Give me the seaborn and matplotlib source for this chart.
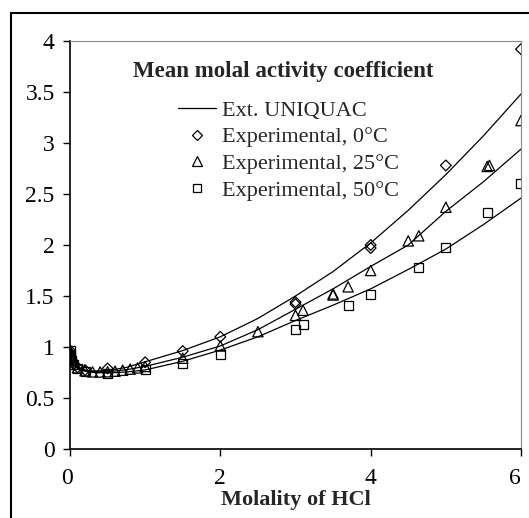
import seaborn as sns
import matplotlib.pyplot as plt
import matplotlib.transforms as mtrans
import pandas as pd
from matplotlib.lines import Line2D
from matplotlib.patches import Rectangle

# model curves (Ext. UNIQUAC)
m_model = [0, 0.001, 0.005, 0.01, 0.02, 0.05, 0.1, 0.2, 0.3, 0.5, 0.75, 1, 1.5, 2, 2.5, 3, 3.5, 4, 4.5, 5, 5.5, 6]
g_model_0 = [1.0, 0.966, 0.930, 0.906, 0.878, 0.835, 0.800, 0.775, 0.765, 0.768, 0.800, 0.855, 0.965, 1.10, 1.28, 1.50, 1.74, 2.02, 2.34, 2.69, 3.07, 3.48]
g_model_25 = [1.0, 0.965, 0.929, 0.905, 0.875, 0.830, 0.796, 0.768, 0.757, 0.757, 0.777, 0.810, 0.900, 1.01, 1.17, 1.37, 1.57, 1.79, 2.00, 2.33, 2.62, 2.94]
g_model_50 = [1.0, 0.964, 0.927, 0.902, 0.871, 0.825, 0.790, 0.762, 0.750, 0.745, 0.755, 0.775, 0.860, 0.97, 1.10, 1.26, 1.41, 1.57, 1.76, 1.96, 2.20, 2.46]

# experimental points
m_exp_0 = [0.001, 0.005, 0.01, 0.02, 0.05, 0.1, 0.2, 0.5, 1.0, 1.5, 2.0, 3.0, 3.0, 4.0, 4.0, 5.0, 6.0]
g_exp_0 = [0.966, 0.930, 0.906, 0.878, 0.834, 0.800, 0.774, 0.79, 0.85, 0.96, 1.10, 1.44, 1.42, 2.00, 1.97, 2.78, 3.92]
m_exp_25 = [0.001, 0.002, 0.005, 0.01, 0.02, 0.05, 0.1, 0.2, 0.3, 0.4, 0.5, 0.6, 0.7, 0.8, 0.9, 1.0,
            1.5, 2.0, 2.5, 3.0, 3.1, 3.5, 3.5, 3.7, 4.0, 4.5, 4.64, 5.0, 5.55, 5.58, 6.0]
g_exp_25 = [0.965, 0.952, 0.929, 0.905, 0.875, 0.830, 0.796, 0.767, 0.756, 0.755, 0.757, 0.763, 0.772, 0.783, 0.795, 0.809,
            0.89, 1.01, 1.15, 1.31, 1.36, 1.52, 1.51, 1.59, 1.75, 2.04, 2.09, 2.37, 2.77, 2.78, 3.22]
m_exp_50 = [0.001, 0.005, 0.01, 0.02, 0.05, 0.1, 0.2, 0.5, 1.0, 1.5, 2.0, 3.0, 3.1, 3.7, 4.0, 4.64, 5.0, 5.55, 6.0]
g_exp_50 = [0.964, 0.926, 0.901, 0.870, 0.824, 0.789, 0.760, 0.74, 0.78, 0.84, 0.93, 1.17, 1.22, 1.41, 1.51, 1.78, 1.98, 2.32, 2.60]

x_ticks = [0, 2, 4, 6]
y_ticks = [0, 0.5, 1, 1.5, 2, 2.5, 3, 3.5, 4]
y_tick_labels = ["0", "0.5", "1", "1.5", "2", "2.5", "3", "3.5", "4"]

sns.set_theme(style="ticks")
plt.rcParams['font.family'] = ['Liberation Serif', 'DejaVu Serif']

fig = plt.figure(figsize=(5.29, 5.18), dpi=100)
W, H = 529, 518
ax = fig.add_axes([70 / W, 1 - 449 / H, (521 - 70) / W, (449 - 41) / H])

model = pd.concat([
    pd.DataFrame({"m": m_model, "g": g_model_0, "T": "0"}),
    pd.DataFrame({"m": m_model, "g": g_model_25, "T": "25"}),
    pd.DataFrame({"m": m_model, "g": g_model_50, "T": "50"}),
])
sns.lineplot(data=model, x="m", y="g", units="T", estimator=None, color="black",
             lw=0.9, sort=False, ax=ax, legend=False)

sns.scatterplot(x=m_exp_0, y=g_exp_0, marker="D", s=30, facecolor="none", edgecolor="black", linewidth=0.9, ax=ax, zorder=3)
sns.scatterplot(x=m_exp_25, y=g_exp_25, marker="^", s=55, facecolor="none", edgecolor="black", linewidth=0.9, ax=ax, zorder=3)
sns.scatterplot(x=m_exp_50, y=g_exp_50, marker="s", s=42, facecolor="none", edgecolor="black", linewidth=0.9, ax=ax, zorder=3)

ax.set_xlim(0, 6)
ax.set_ylim(0, 4)
ax.set_xticks(x_ticks)
ax.set_yticks(y_ticks)
ax.set_yticklabels(y_tick_labels)
ax.tick_params(labelsize=17, length=5, width=1, direction="out", colors="black", pad=6)
ax.tick_params(axis="x", pad=8.5)
ax.set_xlabel("Molality of HCl", fontsize=16, fontweight="bold", labelpad=1)
ax.set_ylabel("")
for side in ["left", "bottom"]:
    ax.spines[side].set_color("black")
    ax.spines[side].set_linewidth(1.2)
for side in ["top", "right"]:
    ax.spines[side].set_visible(True)
    ax.spines[side].set_color("#888888")
    ax.spines[side].set_linewidth(0.8)

# end labels sit slightly inside, as in the original
xl = ax.get_xticklabels()
xl[0].set_transform(xl[0].get_transform() + mtrans.ScaledTranslation(-3 / 100, 0, fig.dpi_scale_trans))
xl[-1].set_transform(xl[-1].get_transform() + mtrans.ScaledTranslation(-6 / 100, 0, fig.dpi_scale_trans))

fig.text(283 / W, 1 - 72 / H, "Mean molal activity coefficient", fontsize=16.5,
         fontweight="bold", ha="center", va="center")

handles = [
    Line2D([], [], color="black", lw=0.9),
    Line2D([], [], marker="D", ls="", ms=5, mfc="none", mec="black", mew=0.9),
    Line2D([], [], marker="^", ls="", ms=6.5, mfc="none", mec="black", mew=0.9),
    Line2D([], [], marker="s", ls="", ms=5.5, mfc="none", mec="black", mew=0.9),
]
labels = ["Ext. UNIQUAC", "Experimental, 0°C", "Experimental, 25°C", "Experimental, 50°C"]
fig.legend(handles, labels, loc="upper left", bbox_to_anchor=(178 / W, 1 - 100 / H),
           frameon=False, fontsize=16, handlelength=1.7, handletextpad=0.3,
           labelspacing=0.28, borderpad=0, borderaxespad=0)

fig.patches.append(Rectangle((11 / W, -0.1), 1.2, 1.1 - 13 / H, transform=fig.transFigure,
                             fill=False, edgecolor="black", lw=1.5))

fig.savefig("out.png", dpi=100)
